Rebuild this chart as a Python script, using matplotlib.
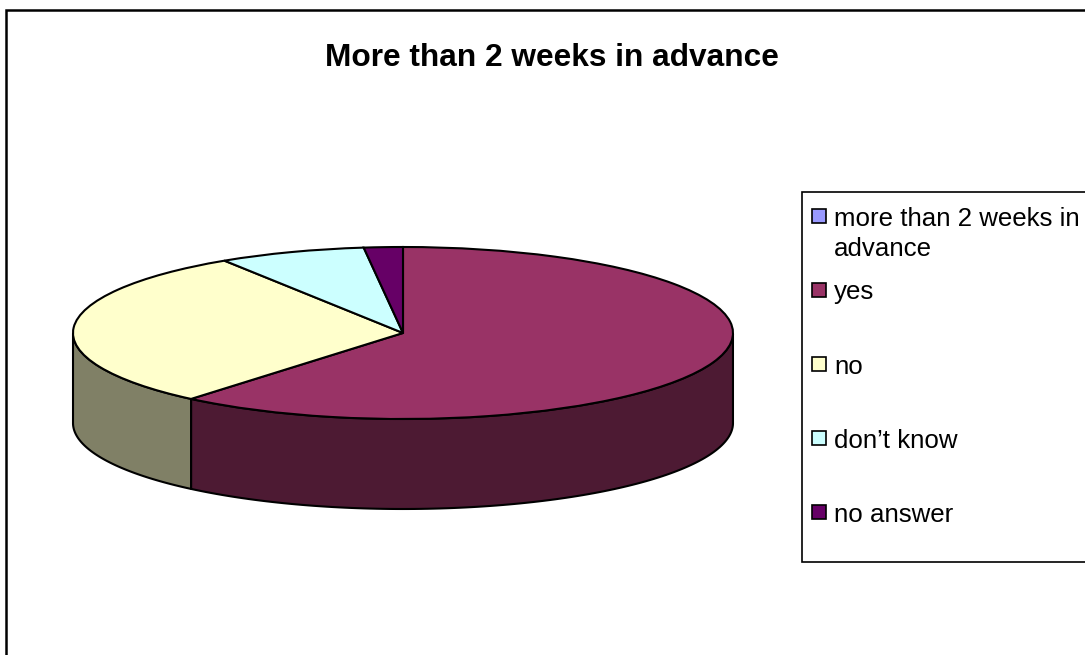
import numpy as np
import matplotlib
matplotlib.use('Agg')
import matplotlib.pyplot as plt
from matplotlib.patches import Rectangle

plt.rcParams['font.family'] = ['Liberation Sans', 'DejaVu Sans']

title = 'More than 2 weeks in advance'
categories = ['yes', 'no', "don\u2019t know", 'no answer']
values = [61.1, 29.8, 7.2, 1.9]
colors = ['#993366', '#FFFFCC', '#CCFFFF', '#660066']
side_colors = ['#4D1A33', '#808066', '#668080', '#330033']
legend_labels = ['more than 2 weeks in\nadvance', 'yes', 'no', "don\u2019t know", 'no answer']
legend_colors = ['#9999FF', '#993366', '#FFFFCC', '#CCFFFF', '#660066']
swatch_y = [216, 290, 364, 438, 512]
text_y = [207, 280, 355, 429, 503]

W, H = 1085, 655
cx, cy, rx, ry, depth = 403, 333, 330, 86, 90

fig = plt.figure(figsize=(W / 100, H / 100), dpi=100)

# page layer in pixel coordinates
bg = fig.add_axes([0, 0, 1, 1])
bg.set_xlim(0, W)
bg.set_ylim(H, 0)
bg.axis('off')
bg.add_patch(Rectangle((6, 10), W + 20, H + 20, fc='white', ec='black', lw=1.8))
bg.text(552, 58, title, ha='center', va='center', fontsize=22.8, fontweight='bold', color='black')

# pie axes squashed so the unit circle becomes the tilted top face
pad = 1.25
ax = fig.add_axes([(cx - rx * pad) / W, 1 - (cy + ry * pad * 2) / H,
                   2 * rx * pad / W, 3 * ry * pad / H])
d = depth / ry

# side walls go under the top face, only the front half is visible
cuts = 90 - np.cumsum([0] + values) * 3.6
for i in range(len(values)):
    a0, a1 = cuts[i + 1], cuts[i]
    t = np.radians(np.linspace(a0, a1, 200))
    t = t[np.sin(t) <= 0]
    if len(t) == 0:
        continue
    x = np.concatenate([np.cos(t), np.cos(t[::-1])])
    y = np.concatenate([np.sin(t), np.sin(t[::-1]) - d])
    ax.fill(x, y, fc=side_colors[i], ec='black', lw=1.5, joinstyle='round')

ax.pie(values, colors=colors, startangle=90, counterclock=False, radius=1,
       wedgeprops={'edgecolor': 'black', 'linewidth': 1.5})
ax.set_aspect('auto')
ax.set_xlim(-pad, pad)
ax.set_ylim(-pad * 2, pad)
ax.axis('off')

# legend drawn by hand, the box runs off the right edge
bg.add_patch(Rectangle((802, 192), W, 370, fc='white', ec='black', lw=1.2, zorder=3))
for lab, col, sy, ty in zip(legend_labels, legend_colors, swatch_y, text_y):
    bg.add_patch(Rectangle((812, sy - 7), 14, 14, fc=col, ec='black', lw=1.2, zorder=4))
    bg.text(834, ty, lab, ha='left', va='top', fontsize=18.6, color='black',
            linespacing=1.3, zorder=4)

fig.savefig('out.png', dpi=100)
